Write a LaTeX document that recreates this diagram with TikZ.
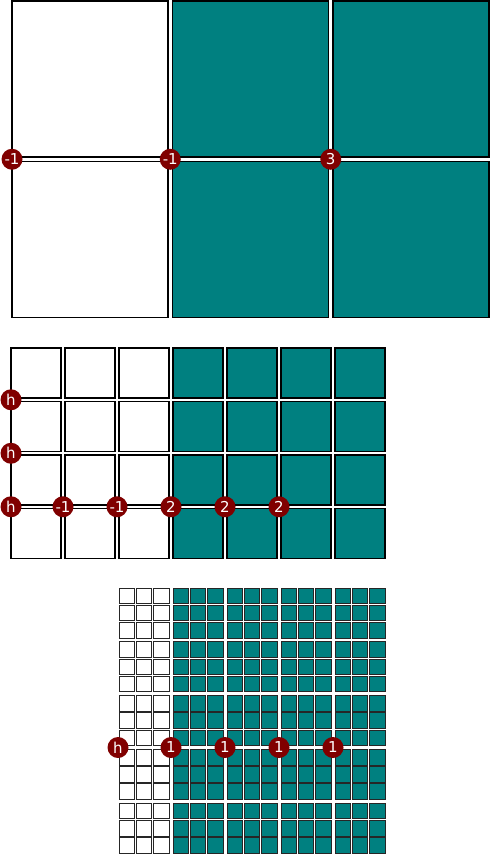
\documentclass[tikz,border=0pt]{standalone}
\usepackage{fontspec}
\newfontfamily\lblfont{DejaVu Sans}
\usepackage{tikz}
\usetikzlibrary{positioning}
\definecolor{gteal}{HTML}{008080}
\definecolor{gmaroon}{HTML}{800000}
\tikzset{
  cellw/.style={draw=black,fill=white,line width=1.6pt},
  cellt/.style={draw=black,fill=gteal,line width=1.6pt},
  fcellw/.style={draw=black!85,fill=white,line width=0.9pt},
  fcellt/.style={draw=black!85,fill=gteal,line width=0.9pt},
  dotlbl/.style={circle,fill=gmaroon,text=white,inner sep=0pt,minimum size=21pt,font=\lblfont\fontsize{15}{15}\selectfont},
}
\begin{document}
\begin{tikzpicture}[x=1pt,y=-1pt]
  \useasboundingbox (0,0) rectangle (491,855);
  % coarse level
  \foreach \r in {0,1} {
    \draw[cellw] (12,1+160.5*\r) rectangle ++(156,156);
    \foreach \c in {1,2}
      \draw[cellt] (12+160.5*\c,1+160.5*\r) rectangle ++(156,156);
  }
  \node[dotlbl] (c1) at (12,159.25) {-1};
  \node[dotlbl] (c2) at (170.25,159.25) {-1};
  \node[dotlbl] (c3) at (330.75,159.25) {3};
  % middle level
  \foreach \r in {0,...,3} {
    \foreach \c in {0,1,2}
      \draw[cellw] (11+54*\c,348+53.5*\r) rectangle ++(50,50);
    \foreach \c in {3,...,6}
      \draw[cellt] (11+54*\c,348+53.5*\r) rectangle ++(50,50);
  }
  \node[dotlbl] (m1) at (11,399.75) {h};
  \node[dotlbl] (m2) at (11,453.25) {h};
  \node[dotlbl] (m3) at (11,506.75) {h};
  \node[dotlbl] (m4) at (63,506.75) {-1};
  \node[dotlbl] (m5) at (117,506.75) {-1};
  \node[dotlbl] (m6) at (171,506.75) {2};
  \node[dotlbl] (m7) at (225,506.75) {2};
  \node[dotlbl] (m8) at (279,506.75) {2};
  % fine level
  \foreach \R in {0,...,4} {
    \foreach \i in {0,1,2} \foreach \j in {0,1,2}
      \draw[fcellw] (119+17.2*\i,588+53.8*\R+17.2*\j) rectangle ++(15.6,15.6);
    \foreach \C in {1,...,4} \foreach \i in {0,1,2} \foreach \j in {0,1,2}
      \draw[fcellt] (119+54*\C+17.2*\i,588+53.8*\R+17.2*\j) rectangle ++(15.6,15.6);
  }
  \node[dotlbl] (f1) at (118,747.5) {h};
  \node[dotlbl] (f2) at (171,747.5) {1};
  \node[dotlbl] (f3) at (225,747.5) {1};
  \node[dotlbl] (f4) at (279,747.5) {1};
  \node[dotlbl] (f5) at (333,747.5) {1};
\end{tikzpicture}
\end{document}
